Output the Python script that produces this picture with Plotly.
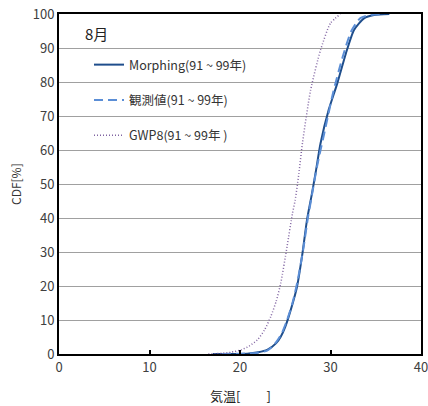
import plotly.graph_objects as go

# Morphing (91~99年)
morph_t = [17, 19, 20.8, 22, 23, 24, 24.5, 25, 25.6, 26.3, 26.9, 27.4, 27.9, 28.4, 28.9, 29.8, 30.75, 31.7, 32.6, 33.7, 34.8, 36.5]
morph_cdf = [0, 0, 0.1, 0.5, 1.2, 3.2, 5.1, 8, 12.9, 19.8, 29.6, 39.4, 46.5, 54, 62, 71.8, 79.6, 88.4, 95.3, 98.7, 99.7, 100]

# 観測値 (91~99年)
obs_t = [18, 20, 22, 23, 23.5, 24, 24.6, 25.2, 25.8, 26.4, 27, 27.5, 27.9, 28.5, 29.4, 30.3, 31.3, 32.3, 33.3, 34.5, 36]
obs_cdf = [0, 0.1, 0.4, 1.0, 2.0, 3.5, 6, 10, 15, 22, 31, 40, 46, 55, 66, 77, 87, 95, 98.8, 99.8, 100]

# GWP8 (91~99年)
gwp_t = [16.5, 18, 19, 20.1, 21, 21.9, 22.7, 23.4, 24, 24.5, 25.2, 25.8, 26.1, 26.5, 26.9, 27.8, 28.9, 30.0, 31.1]
gwp_cdf = [0, 0.2, 0.5, 1.2, 2.3, 4.1, 7, 11, 15.5, 20.8, 31.6, 41.4, 45.3, 53, 62, 77.6, 89.4, 97.3, 100]

names = ["Morphing(91 ~ 99年)", "観測値(91 ~ 99年)", "GWP8(91 ~ 99年 )"]
x_ticks = [0, 10, 20, 30, 40]
y_ticks = [0, 10, 20, 30, 40, 50, 60, 70, 80, 90, 100]

FONT = "Noto Sans CJK JP"
PW, PH = 362, 340  # plot area size in px

fig = go.Figure()
fig.add_trace(go.Scatter(x=morph_t, y=morph_cdf, mode="lines", name=names[0], legendgroup="a",
                         line=dict(color="#1F4E8C", width=2, shape="spline", smoothing=0.6)))
fig.add_trace(go.Scatter(x=obs_t, y=obs_cdf, mode="lines", name=names[1], legendgroup="b",
                         line=dict(color="#5B8ED6", width=2, dash="9px,5px", shape="spline", smoothing=0.6)))
fig.add_trace(go.Scatter(x=gwp_t, y=gwp_cdf, mode="lines", name=names[2], legendgroup="c",
                         line=dict(color="#8064A2", width=1.5, dash="1px,2px", shape="spline", smoothing=0.6)))

# white box behind legend, covering grid
fig.add_shape(type="rect", xref="paper", yref="paper",
              x0=9/PW, x1=223/PW, y0=(340-152)/PH, y1=1,
              fillcolor="white", line=dict(width=0), layer="between")

fig.add_annotation(text="8月", xref="paper", yref="paper", x=(83-59)/PW, y=1-(33-14)/PH,
                   xanchor="left", yanchor="middle", showarrow=False,
                   font=dict(size=15, color="#222222"))
fig.add_annotation(text="気温[　　]", xref="paper", yref="paper", x=0.5, y=-(395-354)/PH,
                   xanchor="center", yanchor="middle", showarrow=False,
                   font=dict(size=13, color="#222222"))
fig.add_annotation(text="CDF[%]", xref="paper", yref="paper", x=-(59-15)/PW, y=0.5,
                   xanchor="center", yanchor="middle", showarrow=False, textangle=-90,
                   font=dict(size=12, color="#333333"))

fig.update_layout(
    width=428, height=406,
    margin=dict(l=59, r=7, t=14, b=52, autoexpand=False),
    paper_bgcolor="white", plot_bgcolor="white",
    font=dict(family=FONT, size=13, color="#404040"),
    showlegend=True,
    legend=dict(x=(89-59)/PW, y=1-(50-14)/PH, xanchor="left", yanchor="top",
                bgcolor="rgba(0,0,0,0)", borderwidth=0,
                font=dict(size=12.5, color="#333333"),
                tracegroupgap=16, itemwidth=30),
    xaxis=dict(range=[0, 40], tickvals=x_ticks, showgrid=False, zeroline=False, automargin=False,
               showline=True, linecolor="black", linewidth=2, mirror=True,
               ticks="inside", ticklen=4, tickwidth=2, tickcolor="black",
               ticklabeloverflow="allow"),
    yaxis=dict(range=[0, 100], tickvals=y_ticks, showgrid=True, gridcolor="#A0A0A0", gridwidth=1,
               zeroline=False, showline=True, linecolor="black", linewidth=2, mirror=True,
               automargin=False, ticks="", ticklabeloverflow="allow"),
)

fig.write_html("out.html", config={"displayModeBar": False},
               post_script="document.body.style.margin='0';document.body.style.padding='0';")
